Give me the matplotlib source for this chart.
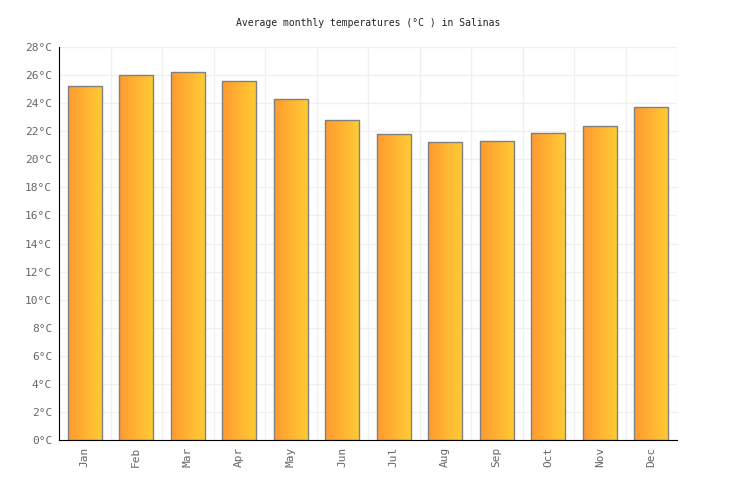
import numpy as np
import matplotlib
matplotlib.use("Agg")
from matplotlib import pyplot as plt
from matplotlib.colors import LinearSegmentedColormap

months = ['Jan', 'Feb', 'Mar', 'Apr', 'May', 'Jun', 'Jul', 'Aug', 'Sep', 'Oct', 'Nov', 'Dec']
temps = [25.2, 26.0, 26.2, 25.6, 24.3, 22.8, 21.8, 21.2, 21.3, 21.9, 22.4, 23.7]
yticks = list(range(0, 29, 2))
ytick_labels = [f"{t}°C" for t in yticks]

plt.rcParams['font.family'] = ['DejaVu Sans Mono']

fig = plt.figure(figsize=(7.36, 5.00), dpi=100)
ax = fig.add_axes([59 / 736, 60 / 500, 618 / 736, 393 / 500])

x = np.arange(len(months))
bars = ax.bar(x, temps, width=0.66, facecolor='none', edgecolor='#808080', linewidth=1.0, zorder=3)

# horizontal gradient orange -> yellow inside each bar
cmap = LinearSegmentedColormap.from_list('warm', ['#ff9a30', '#ffcb35'])
grad = np.linspace(0, 1, 256).reshape(1, -1)
for b in bars:
    bx, by = b.get_x(), b.get_y()
    w, h = b.get_width(), b.get_height()
    im = ax.imshow(grad, cmap=cmap, aspect='auto', extent=(bx, bx + w, by, by + h), zorder=2)
    im.set_clip_path(b)

ax.set_xlim(-0.5, len(months) - 0.5)
ax.set_ylim(0, 28)
ax.set_yticks(yticks)
ax.set_yticklabels(ytick_labels)
ax.set_xticks(x)
ax.set_xticklabels(months, rotation=90)
ax.set_xticks(np.arange(-0.5, len(months), 1), minor=True)

ax.grid(True, axis='y', which='major', color='#f0f0f0', linewidth=1, zorder=0)
ax.grid(True, axis='x', which='minor', color='#f0f0f0', linewidth=1, zorder=0)
ax.set_axisbelow(True)

for s in ['top', 'right']:
    ax.spines[s].set_visible(False)
ax.spines['left'].set_color('black')
ax.spines['bottom'].set_color('black')
ax.tick_params(axis='both', which='both', length=0, labelsize=8, labelcolor='#666666', pad=5)

fig.text(368 / 736, 1 - 23 / 500, 'Average monthly temperatures (°C ) in Salinas',
         ha='center', va='center', fontsize=7, color='#222222')

fig.savefig('out.png', dpi=100)
